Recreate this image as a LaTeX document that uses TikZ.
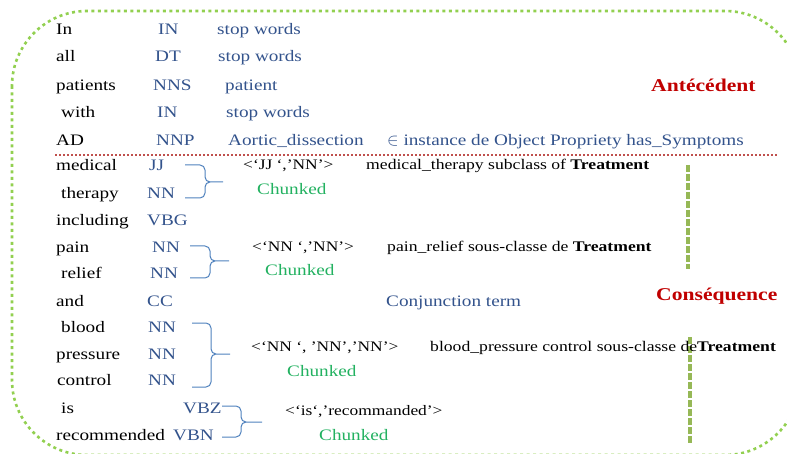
\documentclass[tikz,border=0pt]{standalone}
\usepackage{fontspec}
\setmainfont{Liberation Serif}[FakeStretch=1.2]
\usepackage{tikz}
\definecolor{tagblue}{RGB}{51,83,140}
\definecolor{braceblue}{RGB}{79,129,189}
\definecolor{chunkgreen}{RGB}{34,177,96}
\definecolor{headred}{RGB}{192,0,0}
\definecolor{framegreen}{RGB}{146,208,80}
\definecolor{sepgreen}{RGB}{150,184,86}
\definecolor{sepred}{RGB}{192,80,77}

\begin{document}
\begin{tikzpicture}
  [x=1pt,y=-1pt,
   every node/.style={inner sep=0pt,anchor=base west,font=\fontsize{16}{18}\selectfont},
   tag/.style={text=tagblue},
   chunk/.style={text=chunkgreen},
   pattern/.style={font=\fontsize{14.5}{17}\selectfont},
   head/.style={text=headred,font=\fontsize{18}{20}\selectfont\bfseries},
   rel/.style={font=\fontsize{14.7}{17}\selectfont},
   bracket/.style={draw=braceblue,line width=1pt,rounded corners=5pt},
   frame/.style={draw=framegreen,line width=2.6pt,dash pattern=on 3pt off 3.5pt,rounded corners=75pt},
   vsep/.style={draw=sepgreen,line width=4pt,dash pattern=on 7pt off 2pt},
   hsep/.style={draw=sepred,line width=2pt,dash pattern=on 2pt off 2pt}]
  \useasboundingbox (0,0) rectangle (787,454);
  \draw[frame] (12,11) rectangle (800,455);
  \draw[hsep] (55,155) -- (778,155);
  \draw[vsep] (688,165) -- (688,269);
  \draw[vsep] (690,337) -- (690,443);

  % words and their tags
  \foreach \n/\w/\wx/\y/\tx/\t in {1/In/56/35/158/IN, 2/all/56/62/155/DT,
      3/patients/56/91/153/NNS, 4/with/61/118/157/IN, 5/AD/56/146/156/NNP,
      6/medical/56/171/149/JJ, 7/therapy/61/199/147/NN, 8/including/56/226/147/VBG,
      9/pain/56/253/152/NN, 10/relief/61/279/150/NN, 11/and/56/306/147/CC,
      12/blood/61/333/148/NN, 13/pressure/56/359/148/NN, 14/control/57/385/148/NN,
      15/is/61/413/183/VBZ, 16/recommended/56/440/173/VBN}
  {
    \node (w\n) at (\wx,\y) {\w};
    \node[tag] (t\n) at (\tx,\y) {\t};
  }

  \node[tag] (s1) at (217,35) {stop words};
  \node[tag] (s2) at (218,62) {stop words};
  \node[tag] (s3) at (225,91) {patient};
  \node[tag] (s4) at (226,118) {stop words};
  \node[tag] (s5) at (228,146) {Aortic\_dissection};
  \node[tag] (s6) at (387,146) {$\in$ instance de Object Propriety has\_Symptoms};
  \node[tag] (conj) at (386,306) {Conjunction term};
  \node[head] (ante) at (651,92) {Antécédent};
  \node[head] (cons) at (656,301) {Conséquence};

  % chunks
  \node[pattern] (c1) at (243,170) {<‘JJ ‘,’NN’>};
  \node[chunk] (k1) at (257,195) {Chunked};
  \node[rel] (r1) at (366,170) {medical\_therapy subclass of \textbf{Treatment}};
  \node[pattern] (c2) at (252,252) {<‘NN ‘,’NN’>};
  \node[chunk] (k2) at (265,276) {Chunked};
  \node[rel] (r2) at (387,252) {pain\_relief sous-classe de \textbf{Treatment}};
  \node[pattern] (c3) at (251,351) {<‘NN ‘, ’NN’,’NN’>};
  \node[chunk] (k3) at (287,376) {Chunked};
  \node[rel] (r3) at (430,351) {blood\_pressure control sous-classe de\textbf{Treatment}};
  \node[pattern] (c4) at (285,415) {<‘is‘,’recommanded’>};
  \node[chunk] (k4) at (319,440) {Chunked};

  % braces
  \coordinate (bt1) at (185,165); \coordinate (bb1) at (185,198);
  \coordinate (bm1) at (205,182); \coordinate (bx1) at (223,182);
  \coordinate (bt2) at (190,246); \coordinate (bb2) at (190,278);
  \coordinate (bm2) at (210,261); \coordinate (bx2) at (229,261);
  \coordinate (bt3) at (192,323); \coordinate (bb3) at (192,387);
  \coordinate (bm3) at (211,354); \coordinate (bx3) at (230,354);
  \coordinate (bt4) at (222,406); \coordinate (bb4) at (222,437);
  \coordinate (bm4) at (241,422); \coordinate (bx4) at (262,422);
  \foreach \b in {1,2,3,4}
    \draw[bracket] (bt\b) -| (bm\b) -- (bx\b) (bb\b) -| (bm\b) -- (bx\b);
\end{tikzpicture}
\end{document}
